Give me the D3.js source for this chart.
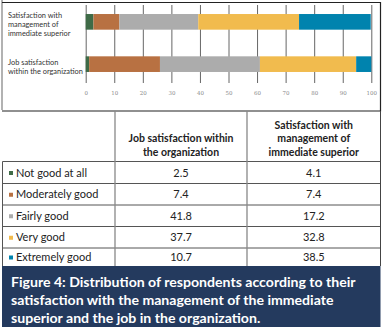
<!DOCTYPE html>
<html>
<head>
<meta charset="utf-8">
<script src="https://cdn.jsdelivr.net/npm/d3@7"></script>
<style>
  body { margin: 0; background: #fff; }
  svg { display: block; font-family: Lato, "Open Sans", sans-serif; }
</style>
</head>
<body>
<script>
const width = 387;
const height = 336;

// bar categories (top to bottom) and their wrapped labels
const barCategories = ["mgmt", "job"];
const barLabels = [
  ["Satisfaction with", "management of", "immediate superior"],
  ["Job satisfaction", "within the organization"]
];
const levels = ["Not good at all", "Moderately good", "Fairly good", "Very good", "Extremely good"];
const colors = ["#3f6b47", "#b87142", "#acacac", "#f1bb4e", "#0083ae"];

// segment widths as drawn in the bars
const barMgmt = [2.7, 9.1, 27.6, 35.3, 25.1];
const barJob = [1.2, 24.8, 35.0, 33.7, 5.3];

// values printed in the table
const tableJob = ["2.5", "7.4", "41.8", "37.7", "10.7"];
const tableMgmt = ["4.1", "7.4", "17.2", "32.8", "38.5"];
const tableHeaders = [
  ["Job satisfaction within", "the organization"],
  ["Satisfaction with", "management of", "immediate superior"]
];
const xTicks = [0, 10, 20, 30, 40, 50, 60, 70, 80, 90, 100];

const caption = [
  "Figure 4: Distribution of respondents according to their",
  "satisfaction with the management of the immediate",
  "superior and the job in the organization."
];

var svg = d3.select("body").append("svg")
  .attr("width", width)
  .attr("height", height);

// ---- chart panel ----
var x = d3.scaleLinear().domain([0, 100]).range([85.7, 371.3]);
var y = d3.scaleBand().domain(barCategories).range([0.7, 85.3])
  .paddingInner(0.63).paddingOuter(0.315);

var axis = d3.axisBottom(x).tickValues(xTicks).tickSize(78).tickPadding(8);
var gAxis = svg.append("g").attr("transform", "translate(0,5)").call(axis);
gAxis.select(".domain").remove();
gAxis.selectAll(".tick line").attr("stroke", "#666").attr("stroke-width", 1);
gAxis.selectAll(".tick text")
  .attr("fill", "#8a8a8a")
  .style("font-family", "'DejaVu Serif', serif")
  .style("font-size", "5.5px");

var rows = [barMgmt, barJob].map((v, i) => {
  var r = { cat: barCategories[i] };
  levels.forEach((l, j) => r[l] = v[j]);
  return r;
});
var series = d3.stack().keys(levels)(rows);

svg.append("g").selectAll("g")
  .data(series)
  .enter().append("g")
  .attr("fill", (d, i) => colors[i])
  .selectAll("rect")
  .data(d => d)
  .enter().append("rect")
  .attr("x", d => x(d[0]))
  .attr("y", d => y(d.data.cat))
  .attr("width", d => x(d[1]) - x(d[0]))
  .attr("height", y.bandwidth());

svg.append("g").selectAll("text")
  .data(barCategories)
  .enter().append("text")
  .attr("x", 8)
  .attr("y", d => y(d) + y.bandwidth() / 2 - (barLabels[barCategories.indexOf(d)].length - 1) * 4.5 + 5)
  .attr("fill", "#333")
  .style("font-size", "7.4px")
  .selectAll("tspan")
  .data(d => barLabels[barCategories.indexOf(d)])
  .enter().append("tspan")
  .attr("x", 8)
  .attr("dy", (d, i) => i === 0 ? 0 : 9)
  .text(d => d);

// panel border
svg.append("line").attr("x1", 2).attr("x2", 2).attr("y1", 0).attr("y2", 110)
  .attr("stroke", "#999").attr("stroke-width", 1.5);
svg.append("path").attr("d", "M2,2.5H380.5V111H2")
  .attr("fill", "none").attr("stroke", "#222").attr("stroke-width", 1.2);

// ---- table ----
var colX = [2.5, 115, 247, 380.5];
var rowY = [161.5, 183.5, 205, 226.5, 248, 266];

var tbl = svg.append("g");
// horizontal rules
tbl.selectAll("line.h")
  .data(rowY.slice(0, 5))
  .enter().append("line")
  .attr("x1", colX[0]).attr("x2", colX[3])
  .attr("y1", d => d).attr("y2", d => d)
  .attr("stroke", "#555").attr("stroke-width", 1);
// vertical rules
tbl.append("line").attr("x1", colX[0]).attr("x2", colX[0]).attr("y1", rowY[0]).attr("y2", 266)
  .attr("stroke", "#555");
[colX[1], colX[2]].forEach(cx => {
  tbl.append("line").attr("x1", cx).attr("x2", cx).attr("y1", 111).attr("y2", 266)
    .attr("stroke", "#888").attr("stroke-width", 1.3);
});
tbl.append("line").attr("x1", colX[3]).attr("x2", colX[3]).attr("y1", 111).attr("y2", 266)
  .attr("stroke", "#444");

// headers
tableHeaders.forEach((lines, c) => {
  var cx = (colX[c + 1] + colX[c + 2]) / 2;
  var t = tbl.append("text")
    .attr("text-anchor", "middle")
    .attr("fill", "#222")
    .style("font-size", "10.5px")
    .style("font-weight", "bold");
  t.selectAll("tspan").data(lines).enter().append("tspan")
    .attr("x", cx)
    .attr("y", (d, i) => 155.5 - (lines.length - 1 - i) * 13.5)
    .text(d => d);
});

// body rows
levels.forEach((l, i) => {
  var cy = (rowY[i] + rowY[i + 1]) / 2;
  tbl.append("rect").attr("x", 9).attr("y", cy - 1.5).attr("width", 4).attr("height", 4)
    .attr("fill", colors[i]);
  tbl.append("text").attr("x", 16).attr("y", cy + 4)
    .attr("fill", "#222").style("font-size", "11px").text(l);
  tbl.append("text").attr("x", (colX[1] + colX[2]) / 2).attr("y", cy + 4)
    .attr("text-anchor", "middle").attr("fill", "#222").style("font-size", "11px")
    .text(tableJob[i]);
  tbl.append("text").attr("x", (colX[2] + colX[3]) / 2).attr("y", cy + 4)
    .attr("text-anchor", "middle").attr("fill", "#222").style("font-size", "11px")
    .text(tableMgmt[i]);
});

// ---- caption ----
svg.append("rect").attr("x", 2).attr("y", 266).attr("width", 378.5).attr("height", 61)
  .attr("fill", "#243a5e");
svg.append("g").selectAll("text")
  .data(caption)
  .enter().append("text")
  .attr("x", 11)
  .attr("y", (d, i) => 287 + i * 18)
  .attr("fill", "#fff")
  .style("font-size", "14.1px")
  .style("font-weight", "bold")
  .text(d => d);
</script>
</body>
</html>
